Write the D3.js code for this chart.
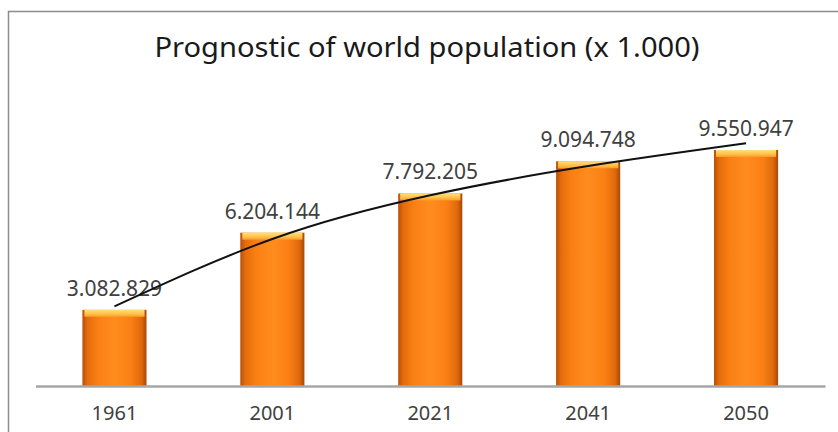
<!DOCTYPE html>
<html>
<head>
<meta charset="utf-8">
<script src="https://cdn.jsdelivr.net/npm/d3@7"></script>
<style>
  html, body { margin: 0; padding: 0; background: #fff; }
  svg { display: block; }
</style>
</head>
<body>
<svg id="chart" width="838" height="432"></svg>
<script>
// ---- Data ----
const categories = ["1961", "2001", "2021", "2041", "2050"];
const populationValues = [3082829, 6204144, 7792205, 9094748, 9550947];
const valueLabels = ["3.082.829", "6.204.144", "7.792.205", "9.094.748", "9.550.947"];
// trend line (logarithmic trendline of the original) at each category
const trendValues = [3220000, 5950000, 7720000, 8900000, 9820000];
const titleText = "Prognostic of world population (x 1.000)";

// ---- Layout ----
const W = 838, H = 432;
const svg = d3.select("#chart");

const x = d3.scaleBand().domain(categories).range([35.5, 825]).paddingInner(0.594).paddingOuter(0.297);
const y = d3.scaleLinear().domain([0, 10000000]).range([386, 138.9]);

// frame
svg.append("path")
  .attr("d", `M8.5,${H + 2} L8.5,11.5 L${W + 2},11.5`)
  .attr("fill", "none").attr("stroke", "#8c8c8c").attr("stroke-width", 1.5);

// title
svg.append("text")
  .attr("x", 427).attr("y", 57)
  .attr("text-anchor", "middle")
  .attr("font-family", "'Noto Sans', 'Open Sans', sans-serif")
  .attr("font-size", 27)
  .attr("textLength", 545)
  .attr("lengthAdjust", "spacingAndGlyphs")
  .attr("fill", "#1a1a1a")
  .text(titleText);

// gradients
const defs = svg.append("defs");
const g1 = defs.append("linearGradient").attr("id", "barGrad").attr("x1", "0").attr("x2", "1").attr("y1", "0").attr("y2", "0");
[["0%", "#b84f08"], ["8%", "#e56c0c"], ["25%", "#fb8014"], ["50%", "#ff8c1e"], ["75%", "#fb8014"], ["92%", "#e06a0c"], ["100%", "#a84708"]]
  .forEach(([o, c]) => g1.append("stop").attr("offset", o).attr("stop-color", c));
const g2 = defs.append("linearGradient").attr("id", "capGrad").attr("x1", "0").attr("x2", "0").attr("y1", "0").attr("y2", "1");
[["0%", "#ffe07a"], ["60%", "#ffc04a"], ["100%", "#ff9a28"]]
  .forEach(([o, c]) => g2.append("stop").attr("offset", o).attr("stop-color", c));

const data = categories.map((c, i) => ({ c, v: populationValues[i], label: valueLabels[i], t: trendValues[i] }));

// bars
const bars = svg.append("g");
bars.selectAll("rect.bar").data(data).join("rect")
  .attr("class", "bar")
  .attr("x", d => x(d.c))
  .attr("y", d => y(d.v))
  .attr("width", x.bandwidth())
  .attr("height", d => y(0) - y(d.v))
  .attr("fill", "url(#barGrad)");
bars.selectAll("rect.cap").data(data).join("rect")
  .attr("class", "cap")
  .attr("x", d => x(d.c) + 2)
  .attr("y", d => y(d.v))
  .attr("width", x.bandwidth() - 4)
  .attr("height", 7)
  .attr("fill", "url(#capGrad)");

// axis
const xAxis = d3.axisBottom(x).tickSize(0).tickPadding(20);
const axG = svg.append("g").attr("transform", `translate(0,${y(0)})`).call(xAxis);
axG.select(".domain").attr("stroke", "#a6a6a6").attr("stroke-width", 2.5);
axG.selectAll("text")
  .attr("font-family", "'Noto Sans', 'Open Sans', sans-serif")
  .attr("font-size", 20)
  .attr("fill", "#404040");

// value labels
svg.append("g").selectAll("text").data(data).join("text")
  .attr("x", d => x(d.c) + x.bandwidth() / 2)
  .attr("y", d => y(d.v) - 14)
  .attr("text-anchor", "middle")
  .attr("font-family", "'Noto Sans', 'Open Sans', sans-serif")
  .attr("font-size", 21)
  .attr("fill", "#404040")
  .text(d => d.label);

// trend line
const line = d3.line()
  .x(d => x(d.c) + x.bandwidth() / 2)
  .y(d => y(d.t))
  .curve(d3.curveNatural);
svg.append("path")
  .datum(data)
  .attr("d", line)
  .attr("fill", "none")
  .attr("stroke", "#111")
  .attr("stroke-width", 2);
</script>
</body>
</html>
